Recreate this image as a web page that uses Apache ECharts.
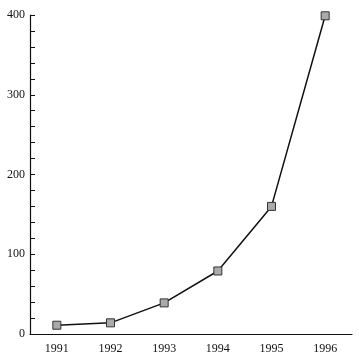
<!DOCTYPE html>
<html>
<head>
<meta charset="utf-8">
<script src="https://cdn.jsdelivr.net/npm/echarts@6/dist/echarts.min.js"></script>
<style>
html,body{margin:0;padding:0;background:#fff;}
#c{width:359px;height:360px;}
</style>
</head>
<body>
<div id="c"></div>
<script>
const years = ['1991','1992','1993','1994','1995','1996'];
const values = [11, 14, 39, 79, 160, 399];
const yMin = 0, yMax = 400, yStep = 20, yLabelStep = 100;

const chart = echarts.init(document.getElementById('c'));
chart.setOption({
  backgroundColor: '#ffffff',
  animation: false,
  grid: {left: 30, right: 7, top: 15, bottom: 26, containLabel: false},
  xAxis: {
    type: 'category',
    data: years,
    boundaryGap: true,
    axisLine: {lineStyle: {color: '#111', width: 1.2}},
    axisTick: {alignWithLabel: true, length: 5, lineStyle: {color: '#111'}},
    axisLabel: {color: '#111', fontFamily: 'Liberation Serif', fontSize: 12, margin: 9},
    splitLine: {show: false}
  },
  yAxis: {
    type: 'value',
    min: yMin, max: yMax, interval: yStep,
    axisLine: {show: true, lineStyle: {color: '#111', width: 1.2}},
    axisTick: {show: true, inside: true, length: 5, lineStyle: {color: '#111'}},
    axisLabel: {
      color: '#111', fontFamily: 'Liberation Serif', fontSize: 12, margin: 5,
      formatter: v => (v % yLabelStep === 0 ? String(v) : '')
    },
    splitLine: {show: false}
  },
  series: [{
    type: 'line',
    data: values,
    symbol: 'rect',
    symbolSize: 8,
    lineStyle: {color: '#111', width: 1.5},
    itemStyle: {color: '#aaaaaa', borderColor: '#333', borderWidth: 1}
  }]
});
</script>
</body>
</html>
